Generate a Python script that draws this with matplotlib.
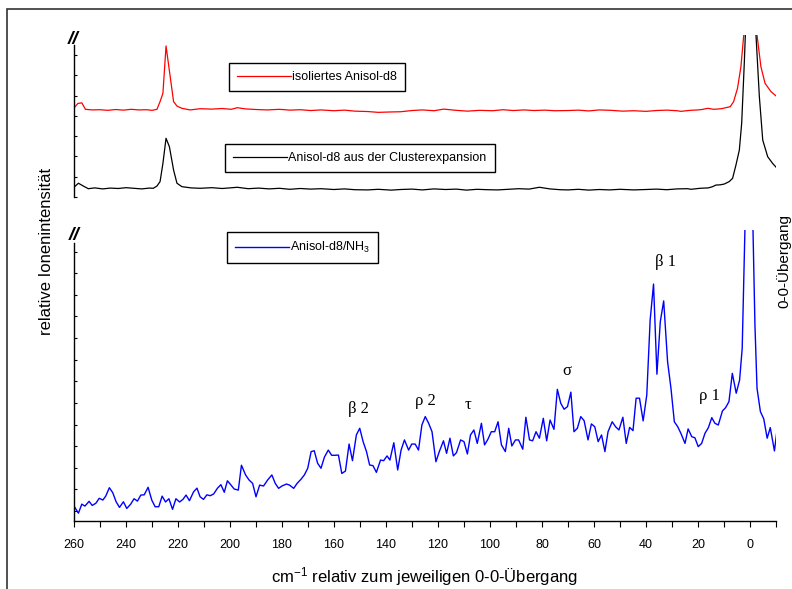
import matplotlib
matplotlib.use('Agg')
import matplotlib.pyplot as plt
from matplotlib.patches import Rectangle

plt.rcParams['font.family'] = ['Liberation Sans', 'DejaVu Sans']
plt.rcParams['mathtext.default'] = 'regular'

# Anisol-d8/NH3 spectrum (lower panel)
blue_x = [260.0, 258.3, 257.0, 255.8, 254.2, 253.0, 251.6, 250.3, 248.9, 247.8,
          246.4, 245.1, 243.8, 242.5, 241.0, 239.7, 238.2, 236.9, 235.6, 234.3,
          233.0, 231.5, 230.1, 228.8, 227.4, 226.1, 224.8, 223.5, 222.1, 220.8,
          219.4, 218.1, 216.9, 215.6, 214.0, 212.7, 211.5, 210.2, 208.9, 207.6,
          206.3, 204.8, 203.5, 202.2, 201.0, 199.6, 198.4, 196.8, 195.6, 194.0,
          192.7, 191.3, 190.0, 188.6, 187.1, 185.5, 183.9, 182.6, 181.3, 180.0,
          178.3, 177.1, 175.5, 174.2, 172.7, 171.4, 170.1, 168.8, 167.6, 166.3,
          165.0, 163.7, 162.2, 160.9, 159.6, 158.3, 157.0, 155.6, 154.2, 152.9,
          151.4, 150.1, 148.8, 147.5, 146.3, 145.0, 143.7, 142.1, 140.9, 139.6,
          138.5, 137.0, 135.5, 134.2, 132.9, 131.3, 130.1, 128.8, 127.5, 126.2,
          124.9, 123.6, 122.3, 120.8, 119.5, 117.9, 116.7, 115.4, 114.1, 112.9,
          111.3, 110.0, 108.7, 107.5, 106.2, 104.9, 103.3, 102.1, 100.8, 99.5,
          98.2, 96.9, 95.6, 94.1, 92.8, 91.6, 90.2, 89.0, 87.4, 86.2,
          84.8, 83.6, 82.3, 81.0, 79.5, 78.2, 76.9, 75.4, 74.1, 72.8,
          71.5, 70.2, 68.9, 67.7, 66.4, 65.1, 63.8, 62.3, 61.0, 59.7,
          58.4, 57.1, 55.8, 54.6, 53.0, 51.7, 50.4, 48.9, 47.6, 46.3,
          45.0, 43.8, 42.5, 41.1, 39.7, 38.4, 37.1, 35.8, 34.5, 33.2,
          31.7, 30.4, 29.1, 27.8, 26.6, 25.0, 23.8, 22.4, 21.2, 19.9,
          18.6, 17.3, 16.0, 14.7, 13.5, 12.2, 10.6, 9.4, 8.1, 6.8,
          5.3, 4.0, 3.0, 1.0, -0.3, -1.9, -2.7, -4.0, -5.3, -6.6,
          -7.8, -9.4, -10.4]
blue_y = [0.23, -0.10, 0.32, 0.23, 0.45, 0.26, 0.36, 0.59, 0.51, 0.69,
          1.08, 0.85, 0.43, 0.17, 0.43, 0.12, 0.32, 0.57, 0.46, 0.74,
          0.75, 1.10, 0.51, 0.20, 0.20, 0.69, 0.42, 0.57, 0.08, 0.57,
          0.42, 0.54, 0.74, 0.48, 0.89, 1.06, 0.66, 0.54, 0.75, 0.71,
          0.79, 1.06, 1.22, 0.87, 1.40, 1.20, 1.02, 0.97, 2.12, 1.67,
          1.44, 1.28, 0.66, 1.20, 1.16, 1.44, 1.67, 1.28, 1.05, 1.16,
          1.25, 1.20, 1.05, 1.28, 1.47, 1.67, 1.98, 2.75, 2.79, 2.21,
          1.98, 2.49, 2.82, 2.58, 2.58, 2.59, 1.74, 1.85, 3.10, 2.33,
          3.52, 3.83, 3.21, 2.75, 2.13, 2.10, 1.79, 2.36, 2.33, 2.55,
          2.36, 3.16, 1.90, 2.82, 3.29, 2.82, 3.10, 3.10, 2.82, 3.98,
          4.37, 4.06, 3.67, 2.28, 2.75, 3.25, 2.67, 3.37, 2.55, 2.70,
          3.29, 3.21, 2.64, 3.52, 3.75, 3.13, 4.06, 3.06, 3.32, 3.67,
          3.67, 4.13, 3.06, 2.75, 3.83, 3.01, 3.29, 3.29, 2.86, 4.34,
          3.29, 3.25, 3.67, 3.37, 4.29, 3.25, 4.21, 3.78, 5.63, 4.99,
          4.71, 4.83, 5.50, 3.67, 3.83, 4.37, 4.18, 3.29, 4.03, 3.90,
          3.21, 3.52, 2.75, 3.67, 4.13, 3.90, 3.75, 4.34, 3.13, 3.87,
          3.72, 5.22, 5.22, 4.17, 5.37, 8.84, 10.50, 6.33, 8.76, 9.72,
          6.91, 5.68, 4.13, 3.90, 3.60, 3.13, 3.80, 3.44, 3.39, 2.98,
          3.13, 3.60, 3.86, 4.32, 4.06, 3.98, 4.63, 4.78, 5.06, 6.37,
          5.45, 6.06, 7.53, 18.0, 18.0, 8.61, 5.68, 4.60, 4.26, 3.37,
          3.86, 2.78, 3.75]

# isoliertes Anisol-d8 (upper panel, red)
red_x = [260, 258.5, 257.0, 255.6, 253, 250, 247, 244, 241, 238,
         235, 232, 230, 228.1, 226.9, 225.8, 224.6, 223.0, 221.7, 220.4,
         218.5, 215.3, 211.5, 207, 203, 199.5, 197.2, 194, 190, 185.7,
         181, 177, 173, 169, 165, 160, 156, 152, 147, 143,
         138, 134.4, 130, 126, 121.5, 117.8, 113, 108.7, 104, 99,
         95, 91, 87, 83, 79, 75, 70, 66, 62, 58,
         53.5, 49, 44.7, 40, 36, 32, 28, 26.6, 23, 20,
         18.5, 16.2, 14, 11, 7.6, 6.3, 4.8, 3.5, 2.4, 1.5,
         0.3, -0.3, -1.8, -2.7, -4.2, -5.8, -8.1, -10.4]
red_y = [4.40, 4.62, 4.65, 4.33, 4.30, 4.31, 4.28, 4.32, 4.29, 4.33,
         4.30, 4.31, 4.28, 4.33, 4.71, 5.12, 7.46, 5.94, 4.71, 4.49,
         4.38, 4.30, 4.36, 4.34, 4.37, 4.33, 4.41, 4.35, 4.32, 4.30,
         4.33, 4.29, 4.31, 4.27, 4.30, 4.26, 4.29, 4.24, 4.22, 4.18,
         4.20, 4.21, 4.27, 4.30, 4.26, 4.34, 4.28, 4.24, 4.28, 4.26,
         4.31, 4.27, 4.30, 4.27, 4.29, 4.26, 4.27, 4.29, 4.25, 4.30,
         4.28, 4.24, 4.26, 4.23, 4.27, 4.29, 4.26, 4.23, 4.28, 4.30,
         4.32, 4.38, 4.33, 4.36, 4.46, 4.71, 5.37, 6.43, 8.0, 10.0,
         40.0, 40.0, 10.0, 8.0, 6.43, 5.61, 5.20, 4.95]

# Anisol-d8 aus der Clusterexpansion (upper panel, black)
black_x = [260, 258.3, 256.4, 254.5, 252, 249, 246, 243, 240, 237,
           234, 231, 229.5, 228.1, 226.9, 225.8, 224.6, 223.3, 221.7, 220.4,
           218.5, 215, 211.5, 207, 203, 200, 197.2, 193, 189, 185,
           181, 177, 173, 169, 165, 160, 156, 152, 147, 143,
           138, 134.4, 130, 126, 121.6, 117, 113, 109, 105, 101,
           97, 93, 89, 85, 81, 77, 73, 70, 66, 62,
           58, 54, 50, 44.7, 40, 36, 32, 28, 24, 22.7,
           19.2, 16, 14.4, 13.1, 11.5, 9.9, 8.0, 6.7, 5.4, 4.1,
           3.2, 2.2, 1.5, 0.3, -0.5, -1.6, -2.3, -3.6, -4.9, -6.8,
           -8.7, -10.4]
black_y = [0.48, 0.68, 0.54, 0.41, 0.45, 0.40, 0.44, 0.42, 0.46, 0.43,
           0.40, 0.44, 0.43, 0.54, 0.76, 1.66, 2.90, 2.48, 1.33, 0.68,
           0.51, 0.45, 0.43, 0.46, 0.42, 0.45, 0.48, 0.41, 0.44, 0.40,
           0.43, 0.38, 0.42, 0.39, 0.41, 0.37, 0.40, 0.36, 0.35, 0.38,
           0.34, 0.37, 0.39, 0.35, 0.40, 0.37, 0.39, 0.34, 0.38, 0.36,
           0.35, 0.38, 0.41, 0.39, 0.48, 0.40, 0.36, 0.35, 0.38, 0.34,
           0.37, 0.35, 0.38, 0.35, 0.37, 0.39, 0.36, 0.40, 0.41, 0.38,
           0.43, 0.45, 0.51, 0.59, 0.60, 0.64, 0.76, 0.92, 1.58, 2.32,
           3.64, 6.60, 9.0, 40.0, 40.0, 12.0, 8.0, 4.95, 2.81, 1.99,
           1.66, 1.42]

# band labels in the lower panel
band_labels = ['β 2', 'ρ 2', 'τ', 'σ', 'β 1', 'ρ 1']
band_x = [150.5, 125.0, 108.5, 70.5, 32.5, 15.5]
band_y = [4.7, 5.1, 4.9, 6.5, 11.5, 5.3]

W, H = 792, 589
fig = plt.figure(figsize=(W / 100, H / 100), dpi=100)

# outer frame (cut off at the right and bottom like in the original)
fig.patches.append(Rectangle((7 / W, -0.1), 1.2, 1 - 9 / H + 0.1,
                             transform=fig.transFigure, fill=False,
                             edgecolor='#333333', linewidth=1.2))

x0, x1 = 74 / W, 776 / W
ax_top = fig.add_axes([x0, 1 - 197 / H, x1 - x0, 162 / H])
ax_bot = fig.add_axes([x0, 1 - 521 / H, x1 - x0, 291 / H])

for ax in (ax_top, ax_bot):
    ax.set_xlim(260, -10)
    ax.spines['top'].set_visible(False)
    ax.spines['right'].set_visible(False)
    ax.spines['left'].set_linewidth(1.0)
    ax.patch.set_visible(False)

# upper panel
ax_top.plot(red_x, red_y, color='#ff0000', lw=0.9, label='isoliertes Anisol-d8')
ax_top.plot(black_x, black_y, color='black', lw=0.9,
            label='Anisol-d8 aus der Clusterexpansion')
ax_top.set_ylim(0, 8)
ax_top.spines['bottom'].set_visible(False)
ax_top.spines['left'].set_bounds(0, 7.5)
ax_top.set_yticks(range(0, 8))
ax_top.set_xticks([])
ax_top.tick_params(axis='y', direction='in', length=2.5, width=0.8,
                   labelleft=False)

# lower panel
ax_bot.plot(blue_x, blue_y, color='#0000ff', lw=1.0, label='Anisol-d8/NH$_3$')
ax_bot.set_ylim(-0.46, 13.0)
ax_bot.spines['left'].set_bounds(-0.46, 12.4)
ax_bot.spines['bottom'].set_linewidth(1.0)
ax_bot.set_yticks(range(0, 13))
ax_bot.tick_params(axis='y', direction='in', length=2.5, width=0.8,
                   labelleft=False)
ax_bot.set_xticks(range(260, -1, -20))
ax_bot.set_xticks(range(250, -11, -20), minor=True)
ax_bot.tick_params(axis='x', which='both', direction='out', length=4,
                   width=0.8, labelsize=9, pad=9)

for lab, bx, by in zip(band_labels, band_x, band_y):
    ax_bot.text(bx, by, lab, family='Liberation Serif', fontsize=12,
                ha='center', va='center')

# legends
leg_kw = dict(loc='upper left', bbox_transform=fig.transFigure,
              borderaxespad=0, fontsize=9, handlelength=4.3,
              handletextpad=0.1, borderpad=0.65, fancybox=False,
              framealpha=1, edgecolor='black')
h_top = ax_top.get_lines()
leg1 = ax_top.legend([h_top[0]], [h_top[0].get_label()],
                     bbox_to_anchor=(229 / W, 1 - 63 / H), **leg_kw)
leg1.get_frame().set_linewidth(1.0)
ax_top.add_artist(leg1)
leg2 = ax_top.legend([h_top[1]], [h_top[1].get_label()],
                     bbox_to_anchor=(225 / W, 1 - 144 / H), **leg_kw)
leg2.get_frame().set_linewidth(1.0)
leg3 = ax_bot.legend(bbox_to_anchor=(227 / W, 1 - 232 / H), **leg_kw)
leg3.get_frame().set_linewidth(1.0)

# axis break marks
for bx, by in [(73, 39), (74, 235)]:
    fig.text(bx / W, 1 - by / H, '//', fontsize=14, ha='center', va='center',
             style='italic', weight='bold')

fig.text(424 / W, 1 - 577 / H, 'cm$^{-1}$ relativ zum jeweiligen 0-0-Übergang',
         fontsize=12, ha='center', va='center')
fig.text(47 / W, 1 - 251 / H, 'relative Ionenintensität', fontsize=12,
         rotation=90, ha='center', va='center')
fig.text(784 / W, 1 - 261 / H, '0-0-Übergang', fontsize=11,
         rotation=90, ha='center', va='center')

fig.savefig('out.png', dpi=100)
